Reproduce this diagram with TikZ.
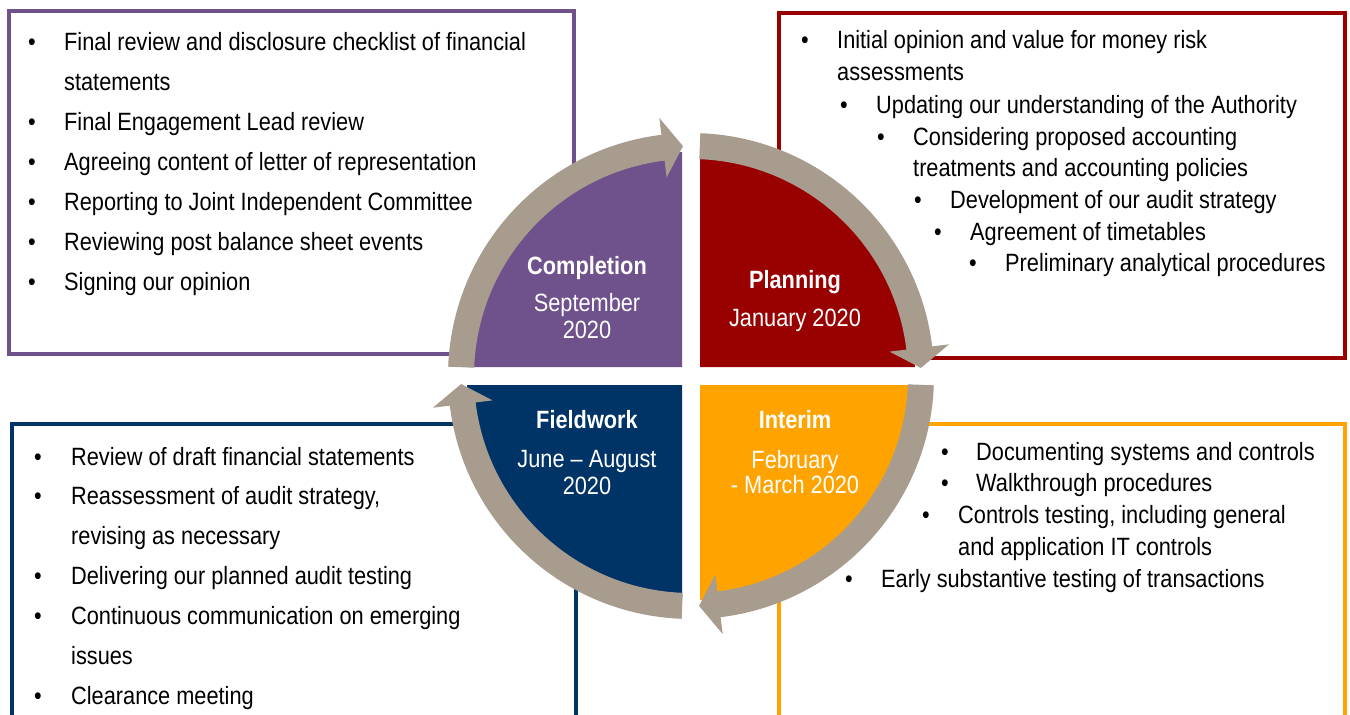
\documentclass[tikz,border=0pt]{standalone}
\usepackage{fontspec}
\setmainfont{Liberation Sans}[FakeStretch=0.87]
\usetikzlibrary{calc}
\definecolor{cpurple}{HTML}{6F518C}
\definecolor{cred}{HTML}{990000}
\definecolor{corange}{HTML}{FFA300}
\definecolor{cnavy}{HTML}{003366}
\definecolor{cring}{HTML}{A89C8F}
\newcommand\bitem[5]{\node[bul] (#1b) at (#2,-#4) {•};\node[txt] (#1) at (#3,-#4) {#5};}
\newcommand\citem[4]{\node[txt] (#1) at (#2,-#3) {#4};}
\begin{document}
\begin{tikzpicture}[x=1pt,y=1pt,
  frame/.style={line width=4pt},
  txt/.style={anchor=base west, inner sep=0pt, font=\fontsize{25}{30}\selectfont, text=black},
  bul/.style={anchor=base, inner sep=0pt, font=\fontsize{25}{30}\selectfont, text=black},
  qlabel/.style={anchor=base, inner sep=0pt, text=white, font=\fontsize{25}{30}\selectfont},
  qtitle/.style={anchor=base, inner sep=0pt, text=white, font=\fontsize{25}{30}\selectfont\bfseries},
  ringarrow/.style={fill=cring, draw=none}]
\useasboundingbox (0,0) rectangle (1350,-715);
\clip (0,0) rectangle (1350,-715);
\fill[white] (0,0) rectangle (1350,-715);

% frames
\draw[frame, cpurple] (8.5,-11) rectangle (574,-354);
\draw[frame, cred] (779,-13) rectangle (1345,-358);
\draw[frame, cnavy] (12,-424) rectangle (576,-740);
\draw[frame, corange] (779,-424) rectangle (1345,-740);

% top-left list
\bitem{tl1}{32}{64}{50.5}{Final review and disclosure checklist of financial}
\citem{tl1c}{64}{90.5}{statements}
\bitem{tl2}{32}{64}{130.5}{Final Engagement Lead review}
\bitem{tl3}{32}{64}{170.5}{Agreeing content of letter of representation}
\bitem{tl4}{32}{64}{210.5}{Reporting to Joint Independent Committee}
\bitem{tl5}{32}{64}{250.5}{Reviewing post balance sheet events}
\bitem{tl6}{32}{64}{290.5}{Signing our opinion}

% top-right list
\bitem{tr1}{805}{837}{48.5}{Initial opinion and value for money risk}
\citem{tr1c}{837}{80.5}{assessments}
\bitem{tr2}{844}{876}{113.5}{Updating our understanding of the Authority}
\bitem{tr3}{881}{913}{145.5}{Considering proposed accounting}
\citem{tr3c}{913}{176.5}{treatments and accounting policies}
\bitem{tr4}{918}{950}{208.5}{Development of our audit strategy}
\bitem{tr5}{938}{970}{240.5}{Agreement of timetables}
\bitem{tr6}{973}{1005}{271.5}{Preliminary analytical procedures}

% bottom-left list
\bitem{bl1}{38}{71}{465}{Review of draft financial statements}
\bitem{bl2}{38}{71}{504.5}{Reassessment of audit strategy,}
\citem{bl2c}{71}{544.5}{revising as necessary}
\bitem{bl3}{38}{71}{584}{Delivering our planned audit testing}
\bitem{bl4}{38}{71}{624}{Continuous communication on emerging}
\citem{bl4c}{71}{664}{issues}
\bitem{bl5}{38}{71}{704}{Clearance meeting}

% bottom-right list
\bitem{br1}{945}{976}{460}{Documenting systems and controls}
\bitem{br2}{945}{976}{491.5}{Walkthrough procedures}
\bitem{br3}{926}{958}{523.5}{Controls testing, including general}
\citem{br3c}{958}{555}{and application IT controls}
\bitem{br4}{849}{881}{587.5}{Early substantive testing of transactions}

% quadrants
\coordinate (C) at (691,-376);
\fill[cpurple] (682,-367) -- ++(-215,0) arc[start angle=180,end angle=90,radius=215] -- cycle;
\fill[cred] (700,-367) -- ++(0,215) arc[start angle=90,end angle=0,radius=215] -- cycle;
\fill[corange] (700,-385) -- ++(215,0) arc[start angle=0,end angle=-90,radius=215] -- cycle;
\fill[cnavy] (682,-385) -- ++(0,-215) arc[start angle=-90,end angle=-180,radius=215] -- cycle;

% ring arrows
\foreach \a [evaluate=\a as \b using \a-80.8, evaluate=\a as \t using \a-85.8] in {177.8,87.8,-2.2,-92.2}{
  \fill[ringarrow] ($(C)+(\a:243)$) arc[start angle=\a, end angle=\b, radius=243]
    -- ($(C)+(\b:260)$) -- ($(C)+(\t:230)$) -- ($(C)+(\b:200)$)
    -- ($(C)+(\b:217)$) arc[start angle=\b, end angle=\a, radius=217] -- cycle;
}

% quadrant labels
\node[qtitle] (qc) at (587,-274.5) {Completion};
\node[qlabel] (qc1) at (587,-311.5) {September};
\node[qlabel] (qc2) at (587,-338.5) {2020};
\node[qtitle] (qp) at (795,-288.5) {Planning};
\node[qlabel] (qp1) at (795,-326.5) {January 2020};
\node[qtitle] (qi) at (795,-428.5) {Interim};
\node[qlabel] (qi1) at (795,-468.5) {February};
\node[qlabel] (qi2) at (795,-493.5) {- March 2020};
\node[qtitle] (qf) at (587,-428.5) {Fieldwork};
\node[qlabel] (qf1) at (587,-467.5) {June – August};
\node[qlabel] (qf2) at (587,-494.5) {2020};
\end{tikzpicture}
\end{document}
